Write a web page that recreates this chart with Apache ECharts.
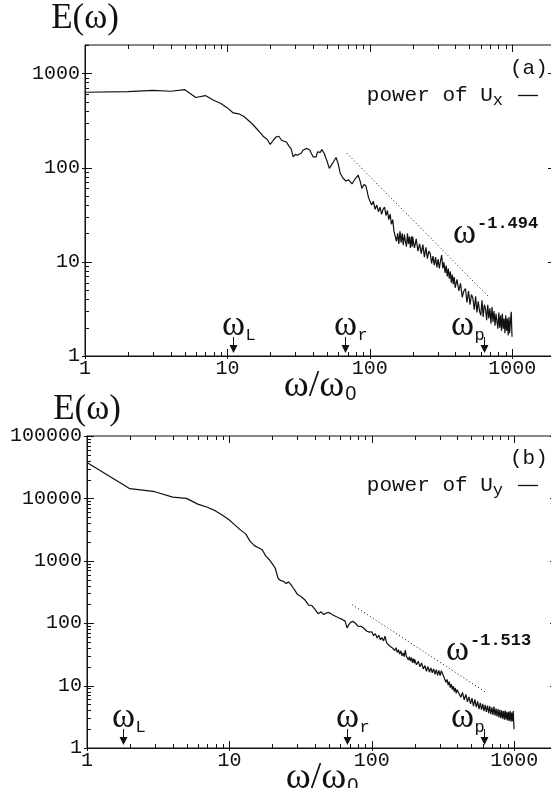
<!DOCTYPE html>
<html>
<head>
<meta charset="utf-8">
<script src="https://cdn.jsdelivr.net/npm/echarts@6/dist/echarts.min.js"></script>
<style>
  html, body { margin: 0; padding: 0; background: #fff; }
  #chart { width: 551px; height: 788px; }
</style>
</head>
<body>
<div id="chart"></div>
<script>
// ---- spectra E(w) of the two velocity components ----
// low-frequency part of U_x spectrum
const lowFreqA = [1,2,3,4,5,6,7,8,9,10,11,12,13,14,15,16,17,18,19,20,21,22,23,24,25,26,27,28,29,30,
  31,32,33,34,35,36,37,38,39,40,41,42,43,44,45,46,47,48,49,50,52,
  55,58,60,62,65,68,71,75,79,83,86,88,91,94,98];
const lowPowerA = [630,641,660,646,673,554,581,519,479,430,380,372,350,318,290,260,235,212,200,176,
  195,212,215,195,190,187,170,159,130,138,135,130,142,153,158,160,155,153,140,130,
  132,130,147,150,145,156,158,140,128,118,98,
  112,128,110,87,77,72,74,67,76,83,70,60,66,64,48];

// low-frequency part of U_y spectrum
const lowFreqB = [1,2,3,4,5,6,7,8,9,10,11,12,13,14,15,16,17,18,19,20,21,22,23,24,25,26,27,28,29,30,
  32,34,36,38,40,42,44,46,48,50,53,56,59,62,65,67,69,71,74,77,80,84,88,92,96];
const lowPowerB = [37500,14300,12800,10500,10000,8100,7200,6300,5300,4500,3700,3100,2700,2050,1750,
  1620,1500,1200,1050,900,760,520,480,470,430,460,420,370,330,290,
  265,235,195,192,165,142,152,138,146,148,137,128,121,115,108,84,95,103,107,99,90,89,83,75,72];

// frequencies of the noisy high-frequency band (shared by both spectra)
const bandFreq = [100,103,106,109,112,115,118,121,124,127,130,133,136,139,142,145,148,151,154,157,
  160,163,166,169,172,175,178,181,184,187,190,193,196,199,
  200,206,212,218,224,230,236,242,248,254,260,266,272,278,284,290,296,302,308,314,
  320,326,332,338,344,350,356,362,368,374,380,386,392,398,
  410,422,434,446,458,470,482,494,506,518,530,542,554,566,578,590,602,614,626,638,
  650,662,674,686,698,710,722,734,746,758,770,782,794,806,818,830,842,854,866,878,
  890,902,914,926,938,950,962,974,986,998];
const bandPowerA = [48,40,44,36,40,34,38,32,36,38,31,35,28,32,25,28,21,21,16.5,20,
  15.5,21,16,20,15,19.5,16.5,14.5,20,15.5,18.5,14,18.5,14.5,
  18.5,14,17.5,13,15.5,12.2,15.2,11.2,14.2,10.8,13,12.2,9.6,11.5,9.2,11.2,8.7,10.7,8.5,10.2,
  11.8,8.5,9.9,7.6,9.1,7.0,8.5,6.6,7.9,6.0,7.3,5.8,6.9,5.3,
  6.5,4.9,5.9,4.2,4.9,5.2,3.7,4.9,3.5,4.5,4.1,3.1,4.3,2.9,3.8,3.0,2.7,3.9,2.6,3.5,
  3.2,2.4,3.5,2.5,3.2,2.2,3.3,2.3,3.0,2.1,2.8,2.9,1.95,2.9,2.0,2.7,1.85,2.8,1.95,2.5,
  1.75,2.7,1.85,2.5,1.65,2.6,1.75,2.4,2.95,1.6];
const bandPowerB = [73,63,68,58,64,54,59,52,62,49,50,43.5,46,40.5,43,36.5,40.5,34,37.5,32,
  36,30,33.5,29,37,29.5,31,25.8,29,24.6,28,23.4,27,22.8,
  26.5,21.5,24.5,20,23,18.5,21,17,20.2,16.4,19.2,16,18.6,15.2,18,14.6,17.5,14.4,17.3,17.8,
  14,14.2,11.3,12.6,10.2,11.6,9.3,10.6,8.6,9.8,8.0,9.2,7.5,8.6,
  8.4,6.5,7.8,5.9,7.2,5.5,6.6,5.1,6.3,4.7,6.0,4.5,5.6,4.2,5.3,4.1,5.1,3.9,4.9,3.8,
  4.8,3.6,4.7,3.5,4.5,3.4,4.6,3.3,4.3,3.2,4.2,3.1,4.1,3.0,4.0,2.95,3.9,2.85,4.0,2.85,
  3.8,2.75,3.8,2.75,3.9,2.65,3.7,2.7,3.9,2.0];

// power-law fits drawn as dotted guide lines (end points)
const fitFreqA = [69, 679];
const fitPowerA = [142, 4.3];
const fitFreqB = [73, 627];
const fitPowerB = [198, 7.9];
const fitExponentA = '-1.494';
const fitExponentB = '-1.513';

// characteristic frequencies marked with arrows on the frequency axis
const markSubs = ['L', 'r', 'p'];
const markFreqA = [11, 67, 631];
const markFreqB = [1.79, 67, 617];

// axis ranges
const xRange = [1, 2000];
const yRangeA = [1, 2000];
const yRangeB = [1, 100000];

// ---- styling ----
const SERIF = '"Liberation Serif", "DejaVu Serif", serif';
const MONO = '"Liberation Mono", "DejaVu Sans Mono", monospace';
const SANS = '"Liberation Sans", "DejaVu Sans", sans-serif';
const INK = '#111';

const pairs = (xs, ys) => xs.map((x, i) => [x, ys[i]]);

function xAxisFor(gi) {
  return {
    gridIndex: gi, type: 'log', logBase: 10, min: xRange[0], max: xRange[1],
    axisLine: { show: true, lineStyle: { color: INK, width: 1 } },
    axisTick: { show: false }, splitLine: { show: false },
    axisLabel: {
      color: INK, fontFamily: MONO, fontSize: 20, margin: 3, showMaxLabel: false,
      formatter: v => String(Math.round(v))
    },
    name: '{w|ω/ω}{z|0}', nameLocation: 'middle', nameGap: 10, nameMoveOverlap: false,
    nameTextStyle: {
      rich: {
        w: { fontFamily: SERIF, fontSize: 38, lineHeight: 40, color: INK },
        z: { fontFamily: SANS, fontSize: 20, color: INK, padding: [16, 0, 0, 1] }
      }
    }
  };
}
function yAxisFor(gi, range) {
  return {
    gridIndex: gi, type: 'log', logBase: 10, min: range[0], max: range[1],
    axisLine: { show: true, lineStyle: { color: INK, width: 1 } },
    axisTick: { show: false }, splitLine: { show: false },
    axisLabel: {
      color: INK, fontFamily: MONO, fontSize: 20, margin: 5, showMaxLabel: range[1] === 100000,
      formatter: v => String(Math.round(v))
    },
    name: 'E(ω)', nameLocation: 'end', nameGap: 8, nameMoveOverlap: false,
    nameTextStyle: { fontFamily: SERIF, fontSize: 35, lineHeight: 36, color: INK, align: 'center' }
  };
}

// inward ticks on all four sides of a frame (decades long, 2..9 short)
function frameTicks(gi, yMax) {
  return {
    type: 'custom', xAxisIndex: gi, yAxisIndex: gi, silent: true, clip: false,
    data: [[1, 1]],
    renderItem: function (params, api) {
      const cs = params.coordSys;
      const L = cs.x, R = cs.x + cs.width, T = cs.y, B = cs.y + cs.height;
      const kids = [];
      const seg = (x1, y1, x2, y2) => kids.push({
        type: 'line', shape: { x1, y1, x2, y2 }, style: { stroke: INK, lineWidth: 1 }
      });
      for (let d = 1; d <= xRange[1]; d *= 10) {
        for (let k = 1; k <= 9; k++) {
          const v = k * d;
          if (v > xRange[1]) break;
          const px = Math.round(api.coord([v, 1])[0]) + 0.5;
          const len = k === 1 ? 7 : 4;
          seg(px, B + (k === 1 ? 3 : 0), px, B - len);
          seg(px, T, px, T + len);
        }
      }
      for (let d = 1; d <= yMax; d *= 10) {
        for (let k = 1; k <= 9; k++) {
          const v = k * d;
          if (v > yMax) break;
          const py = Math.round(api.coord([1, v])[1]) + 0.5;
          const len = k === 1 ? 7 : 4;
          seg(L - (k === 1 ? 3 : 0), py, L + len, py);
          seg(R, py, R - len, py);
        }
      }
      return { type: 'group', children: kids };
    }
  };
}

// labelled arrows pointing at characteristic frequencies
const labelShift = { p: -22 };
function freqMarks(gi, freqs) {
  return {
    type: 'custom', xAxisIndex: gi, yAxisIndex: gi, silent: true, clip: false,
    data: freqs.map(f => [f, 1]),
    renderItem: function (params, api) {
      const sub = markSubs[params.dataIndex];
      const px = Math.round(api.coord([api.value(0), 1])[0]) + 0.5;
      const py = params.coordSys.y + params.coordSys.height;
      const dx = labelShift[sub] || 0;
      return {
        type: 'group',
        children: [
          { type: 'text', style: { text: 'ω', x: px + dx, y: py - 30, align: 'center', verticalAlign: 'middle',
              font: '35px ' + SERIF, fill: INK } },
          { type: 'text', style: { text: sub, x: px + dx + 12, y: py - 21, align: 'left', verticalAlign: 'middle',
              font: '17px ' + MONO, fill: INK } },
          { type: 'line', shape: { x1: px, y1: py - 19, x2: px, y2: py - 9 }, style: { stroke: INK, lineWidth: 1 } },
          { type: 'polygon', shape: { points: [[px - 4, py - 11], [px + 4, py - 11], [px, py - 3]] }, style: { fill: INK } }
        ]
      };
    }
  };
}

function spectrum(gi, name, xs, ys) {
  return {
    type: 'line', name: name, xAxisIndex: gi, yAxisIndex: gi,
    data: pairs(xs, ys), symbol: 'none', smooth: false,
    itemStyle: { color: INK }, lineStyle: { color: INK, width: 1.2 }
  };
}
function fitLine(gi, xs, ys) {
  return {
    type: 'line', name: 'fit' + gi, xAxisIndex: gi, yAxisIndex: gi,
    data: pairs(xs, ys), symbol: 'none',
    lineStyle: { color: INK, width: 1, type: [1, 2.5] }
  };
}
function legendFor(name, sub, top) {
  return {
    data: [name], right: 8, top: top, orient: 'horizontal', align: 'right',
    icon: 'rect', itemWidth: 20, itemHeight: 1.3, selectedMode: false,
    formatter: () => '{m|power of U}{s|' + sub + '}',
    textStyle: {
      color: INK,
      rich: {
        m: { fontFamily: MONO, fontSize: 21, color: INK },
        s: { fontFamily: MONO, fontSize: 17, color: INK, padding: [9, 10, 0, 0] }
      }
    }
  };
}
function exponentLabel(x, y, exp) {
  return [
    { type: 'text', x: x, y: y, style: { text: 'ω', font: '35px ' + SERIF, fill: INK, align: 'left', verticalAlign: 'middle' } },
    { type: 'text', x: x + 24, y: y - 10, style: { text: exp, font: 'bold 17px ' + MONO, fill: INK, align: 'left', verticalAlign: 'middle' } }
  ];
}

const chart = echarts.init(document.getElementById('chart'), null, { renderer: 'canvas' });
chart.setOption({
  animation: false,
  backgroundColor: '#fff',
  grid: [
    { left: 85, top: 45, width: 470, height: 311, show: true, borderColor: INK, borderWidth: 1,
      containLabel: false, outerBoundsMode: 'none' },
    { left: 87, top: 436, width: 470, height: 312, show: true, borderColor: INK, borderWidth: 1,
      containLabel: false, outerBoundsMode: 'none' }
  ],
  xAxis: [xAxisFor(0), xAxisFor(1)],
  yAxis: [yAxisFor(0, yRangeA), yAxisFor(1, yRangeB)],
  legend: [legendFor('power of Ux', 'x', 80), legendFor('power of Uy', 'y', 470)],
  series: [
    spectrum(0, 'power of Ux', lowFreqA.concat(bandFreq), lowPowerA.concat(bandPowerA)),
    spectrum(1, 'power of Uy', lowFreqB.concat(bandFreq), lowPowerB.concat(bandPowerB)),
    fitLine(0, fitFreqA, fitPowerA),
    fitLine(1, fitFreqB, fitPowerB),
    frameTicks(0, yRangeA[1]),
    frameTicks(1, yRangeB[1]),
    freqMarks(0, markFreqA),
    freqMarks(1, markFreqB)
  ],
  graphic: [
    { type: 'text', x: 510, y: 68, style: { text: '(a)', font: '21px ' + MONO, fill: INK, verticalAlign: 'middle' } },
    { type: 'text', x: 510, y: 458, style: { text: '(b)', font: '21px ' + MONO, fill: INK, verticalAlign: 'middle' } }
  ].concat(exponentLabel(453, 234, fitExponentA), exponentLabel(446, 651, fitExponentB))
});
</script>
</body>
</html>
